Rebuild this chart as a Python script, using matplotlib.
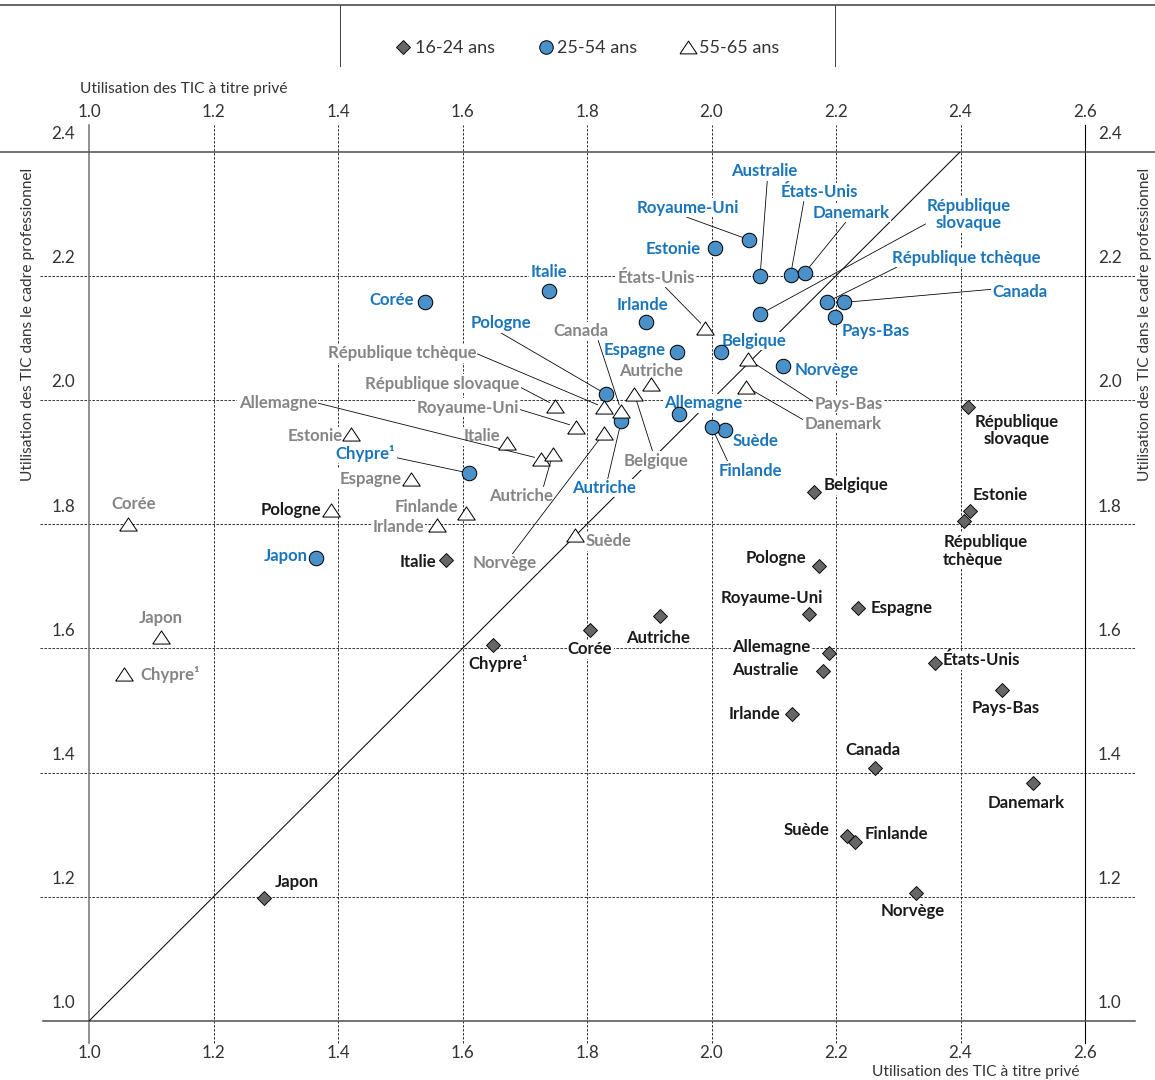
import matplotlib
matplotlib.use("Agg")
import matplotlib.pyplot as plt
from matplotlib.lines import Line2D
from matplotlib.transforms import ScaledTranslation

plt.rcParams['font.family'] = ['Lato', 'DejaVu Sans']

# --- data -----------------------------------------------------------------
ticks_x = [1.0, 1.2, 1.4, 1.6, 1.8, 2.0, 2.2, 2.4, 2.6]
ticks_y = [1.0, 1.2, 1.4, 1.6, 1.8, 2.0, 2.2, 2.4]

countries_1624 = ["Japon", "Italie", "Chypre¹", "Corée", "Autriche", "Belgique",
                  "Pologne", "Royaume-Uni", "Espagne", "Allemagne", "Australie",
                  "Irlande", "Canada", "Suède", "Finlande", "Danemark", "Norvège",
                  "États-Unis", "Pays-Bas", "Estonie", "République\ntchèque",
                  "République\nslovaque"]
prive_1624 = [1.281, 1.574, 1.649, 1.805, 1.917, 2.164, 2.172, 2.157, 2.236, 2.188,
              2.179, 2.129, 2.262, 2.218, 2.231, 2.517, 2.329, 2.359, 2.466, 2.415,
              2.406, 2.412]
pro_1624 = [1.198, 1.742, 1.605, 1.629, 1.652, 1.851, 1.732, 1.656, 1.665, 1.593,
            1.563, 1.494, 1.407, 1.298, 1.288, 1.383, 1.206, 1.576, 1.533, 1.821,
            1.805, 1.988]

countries_2554 = ["Japon", "Chypre¹", "Corée", "Italie", "Pologne", "Irlande", "Espagne",
                  "Estonie", "Royaume-Uni", "Australie", "États-Unis", "Danemark",
                  "République\nslovaque", "République tchèque", "Canada", "Pays-Bas",
                  "Belgique", "Norvège", "Allemagne", "Suède", "Finlande", "Autriche"]
prive_2554 = [1.365, 1.611, 1.539, 1.739, 1.831, 1.894, 1.944, 2.006, 2.060, 2.078,
              2.127, 2.150, 2.078, 2.186, 2.213, 2.198, 2.015, 2.115, 1.948, 2.021,
              2.000, 1.855]
pro_2554 = [1.746, 1.882, 2.157, 2.175, 2.009, 2.126, 2.077, 2.245, 2.258, 2.199,
            2.201, 2.205, 2.138, 2.158, 2.157, 2.133, 2.077, 2.054, 1.977, 1.952,
            1.957, 1.966]

countries_5565 = ["Corée", "Japon", "Chypre¹", "Pologne", "Irlande", "Finlande", "Espagne",
                  "Estonie", "Italie", "Allemagne", "République slovaque", "Royaume-Uni",
                  "République tchèque", "Canada", "Autriche", "Belgique", "Autriche",
                  "Norvège", "Suède", "États-Unis", "Pays-Bas", "Danemark"]
prive_5565 = [1.063, 1.115, 1.057, 1.389, 1.559, 1.605, 1.518, 1.421, 1.671, 1.726,
              1.749, 1.782, 1.827, 1.855, 1.903, 1.876, 1.745, 1.827, 1.780, 1.990,
              2.058, 2.056]
pro_5565 = [1.801, 1.618, 1.558, 1.823, 1.798, 1.818, 1.873, 1.945, 1.930, 1.905,
            1.991, 1.957, 1.988, 1.982, 2.026, 2.010, 1.913, 1.946, 1.782, 2.116,
            2.066, 2.021]

# label placement: (dx, dy in px, ha, leader relpos or None)
lay_1624 = [(11, 16, 'left', None), (-10, -2, 'right', None), (5, -18, 'center', None),
            (0, -19, 'center', None), (-2, -22, 'center', None), (10, 7, 'left', None),
            (-12, 8, 'right', None), (-37, 16, 'center', None), (12, 0, 'left', None),
            (-18, 6, 'right', None), (-25, 1, 'right', None), (-12, 0, 'right', None),
            (-2, 18, 'center', None), (-18, 6, 'right', None), (9, 8, 'left', None),
            (-7, -20, 'center', None), (-4, -18, 'center', None), (8, 3, 'left', None),
            (4, -18, 'center', None), (3, 16, 'left', None), (-21, -30, 'left', None),
            (49, -23, 'center', None)]
lay_2554 = [(-8, 2, 'right', None), (-74, 20, 'right', (1, 0.25)), (-11, 2, 'right', None),
            (0, 19, 'center', None), (-105, 71, 'center', (0.45, 0)), (-3, 17, 'center', None),
            (-11, 2, 'right', None), (-14, -1, 'right', None), (-61, 32, 'center', (0.45, 0)),
            (4, 105, 'center', (0.55, 0)), (29, 83, 'center', (0.3, 0)),
            (46, 60, 'center', (0.45, 0)), (209, 100, 'center', (0.05, 0.3)),
            (139, 44, 'center', (0.05, 0)), (176, 10, 'center', (0, 0.7)),
            (7, -14, 'left', None), (33, 11, 'center', None), (12, -4, 'left', None),
            (24, 11, 'center', None), (31, -11, 'center', None),
            (39, -44, 'center', (0.15, 1)), (-17, -67, 'center', (0.55, 1))]
lay_5565 = [(5, 20, 'center', None), (0, 19, 'center', None), (16, 0, 'left', None),
            (-10, 0, 'right', None), (-13, -2, 'right', None), (-7, 6, 'right', None),
            (-10, 0, 'right', None), (-8, -2, 'right', None), (-6, 7, 'right', None),
            (-263, 56, 'center', (1, 0.5)), (-113, 22, 'center', (1, 0.3)),
            (-108, 19, 'center', (1, 0.4)), (-202, 54, 'center', (1, 0.5)),
            (-40, 80, 'center', (0.8, 0)), (0, 13, 'center', None),
            (22, -67, 'center', (0.45, 1)), (-32, -42, 'center', (0.85, 1)),
            (-99, -130, 'center', (0.6, 1)), (11, -6, 'left', None),
            (-49, 50, 'center', (0.6, 0)), (101, -45, 'center', (0, 0.6)),
            (97, -37, 'center', (0, 0.7))]

BLUE_FILL = '#4A90C9'
BLUE_TXT = '#1B75BB'
GREY_TXT = '#858585'
DARK_TXT = '#1a1a1a'
TRI = [(-1, -0.75), (1, -0.75), (0, 0.75), (-1, -0.75)]

DPI = 72
fig = plt.figure(figsize=(1155 / DPI, 1080 / DPI), dpi=DPI)
ax = fig.add_axes([89 / 1155, 59 / 1080, 996 / 1155, 869.5 / 1080])
ax.set_xlim(1.0, 2.6)
ax.set_ylim(1.0, 2.4)
for s in ax.spines.values():
    s.set_visible(False)

# grid and frame lines, extending past the plot box
for v in ticks_x[1:-1]:
    ax.axvline(v, ymin=-0.025, ymax=1.03, color='k', lw=0.8, ls=(0, (3, 2)),
               clip_on=False, zorder=1)
for v in ticks_y[1:-1]:
    ax.axhline(v, xmin=-0.049, xmax=1.05, color='k', lw=0.8, ls=(0, (3, 2)),
               clip_on=False, zorder=1)
ax.axvline(ticks_x[0], ymin=-0.025, ymax=1.03, color='#777777', lw=1.6, clip_on=False)
ax.axvline(ticks_x[-1], ymin=-0.025, ymax=1.03, color='k', lw=1.1, clip_on=False)
ax.axhline(ticks_y[-1], xmin=-0.09, xmax=1.08, color='#555555', lw=1.6, clip_on=False)
ax.axhline(ticks_y[0], xmin=-0.046, xmax=1.05, color='#555555', lw=1.6, clip_on=False)
ax.plot([1.0, 2.4], [1.0, 2.4], color='k', lw=1.0, zorder=2)

# ticks
ax.set_xticks(ticks_x, [f"{t:.1f}" for t in ticks_x])
ax.set_yticks(ticks_y, [f"{t:.1f}" for t in ticks_y])
ax.tick_params(length=0, labelsize=17, labelcolor='#333333')
ax.tick_params(axis='x', pad=24)
ax.tick_params(axis='y', pad=14)
up = ScaledTranslation(0, 19 / 72, fig.dpi_scale_trans)
for lbl in ax.get_yticklabels():
    lbl.set_transform(lbl.get_transform() + up)

secx = ax.secondary_xaxis('top')
secx.set_xticks(ticks_x, [f"{t:.1f}" for t in ticks_x])
secx.tick_params(length=0, labelsize=17, labelcolor='#333333', pad=31)
secx.spines['top'].set_visible(False)
secy = ax.secondary_yaxis('right')
secy.set_yticks(ticks_y, [f"{t:.1f}" for t in ticks_y])
secy.tick_params(length=0, labelsize=17, labelcolor='#333333', pad=13)
secy.spines['right'].set_visible(False)
for lbl in secy.get_yticklabels():
    lbl.set_transform(lbl.get_transform() + up)

# markers
ax.plot(prive_1624, pro_1624, ls='none', marker='D', ms=10.5, mfc='#666666',
        mec='k', mew=0.9, zorder=6)
ax.plot(prive_2554, pro_2554, ls='none', marker='o', ms=14.5, mfc=BLUE_FILL,
        mec='k', mew=1.0, zorder=6)
ax.plot(prive_5565, pro_5565, ls='none', marker=TRI, ms=17.5, mfc='white',
        mec='k', mew=1.0, zorder=6)


def put_labels(names, xs, ys, layout, color, weight='bold'):
    for name, x, y, (dx, dy, ha, rp) in zip(names, xs, ys, layout):
        c = color
        if color == GREY_TXT and name == "Pologne":
            c = DARK_TXT
        kw = dict(xy=(x, y), xytext=(dx, dy), textcoords='offset points',
                  ha=ha, va='center', fontsize=16.8, fontweight=weight, color=c,
                  multialignment=ha, linespacing=1.1,
                  bbox=dict(boxstyle='square,pad=0.08', fc='white', ec='none'),
                  zorder=4)
        if rp is not None:
            kw['arrowprops'] = dict(arrowstyle='-', color='k', lw=0.8,
                                    shrinkA=0, shrinkB=6.5, relpos=rp)
        ax.annotate(name, **kw)


put_labels(countries_1624, prive_1624, pro_1624, lay_1624, DARK_TXT)
put_labels(countries_2554, prive_2554, pro_2554, lay_2554, BLUE_TXT)
put_labels(countries_5565, prive_5565, pro_5565, lay_5565, GREY_TXT)

# axis titles
fig.text(80 / 1155, 1 - 89 / 1080, "Utilisation des TIC à titre privé", ha='left',
         va='center', fontsize=15.5, color='#333333')
fig.text(1080 / 1155, 1 - 1072 / 1080, "Utilisation des TIC à titre privé", ha='right',
         va='center', fontsize=15.5, color='#333333')
fig.text(28 / 1155, 1 - 324 / 1080, "Utilisation des TIC dans le cadre professionnel",
         rotation=90, ha='center', va='center', fontsize=15.5, color='#333333')
fig.text(1145 / 1155, 1 - 324 / 1080, "Utilisation des TIC dans le cadre professionnel",
         rotation=90, ha='center', va='center', fontsize=15.5, color='#333333')

# legend header
fig.add_artist(Line2D([0, 1], [1 - 5 / 1080] * 2, transform=fig.transFigure,
                      color='#444444', lw=1.6))
for xv in (340, 835):
    fig.add_artist(Line2D([xv / 1155] * 2, [1 - 5 / 1080, 1 - 66 / 1080],
                          transform=fig.transFigure, color='#444444', lw=1.0))
handles = [
    Line2D([], [], ls='none', marker='D', ms=10, mfc='#666666', mec='k', mew=0.9),
    Line2D([], [], ls='none', marker='o', ms=13.5, mfc=BLUE_FILL, mec='k', mew=1.0),
    Line2D([], [], ls='none', marker=TRI, ms=17, mfc='white', mec='k', mew=1.0),
]
fig.legend(handles, ["16-24 ans", "25-54 ans", "55-65 ans"], ncol=3, frameon=False,
           loc='center', bbox_to_anchor=(588 / 1155, 1 - 48 / 1080),
           fontsize=18, labelcolor='#333333', handlelength=0.8, handletextpad=0.25,
           columnspacing=2.4)

fig.savefig("out.png", dpi=DPI)
